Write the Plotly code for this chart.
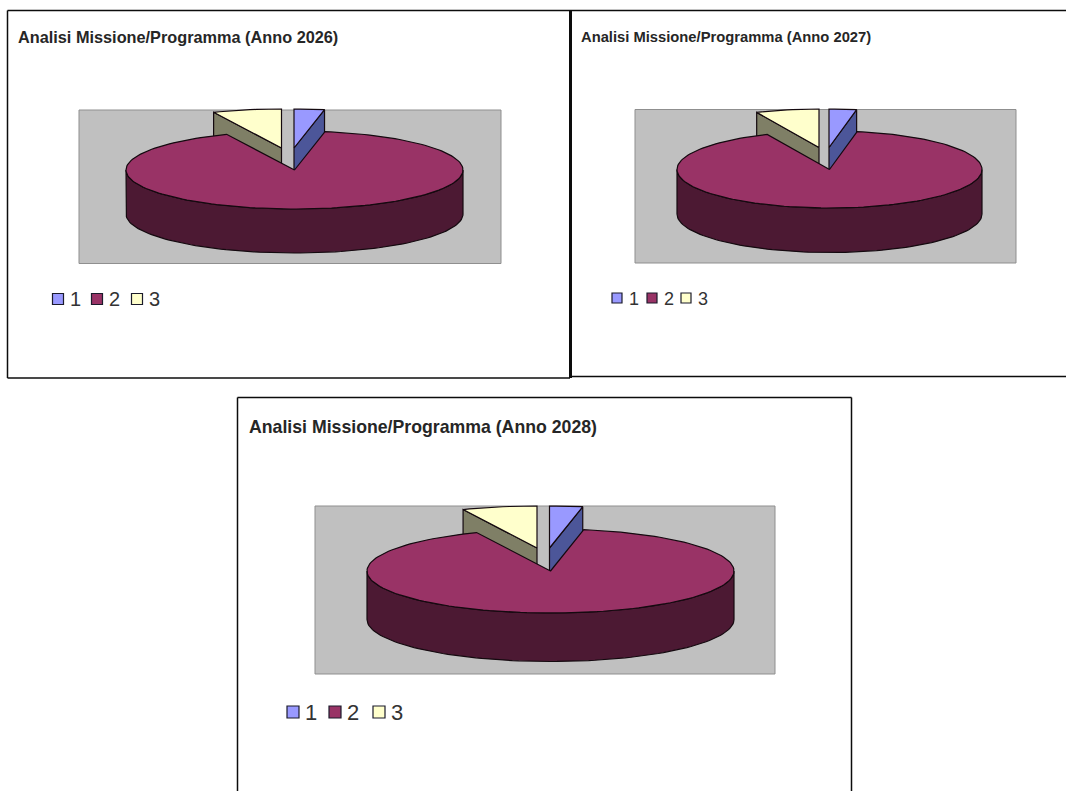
import math
import plotly.graph_objects as go

# ---- data ----
categories = ["1", "2", "3"]
values_2026 = [2.9, 90.5, 6.6]
values_2027 = [2.9, 90.4, 6.7]
values_2028 = [2.9, 90.5, 6.6]
titles = ["Analisi Missione/Programma (Anno 2026)",
          "Analisi Missione/Programma (Anno 2027)",
          "Analisi Missione/Programma (Anno 2028)"]

# ---- styles ----
TOP_COLORS = ["#9999FF", "#993366", "#FFFFCC"]
SIDE_COLORS = ["#4C5699", "#4C1933", "#7F7F66"]
EDGE = "#14090f"
FONT = "Liberation Sans"

panels = [
    dict(values=values_2026, title=titles[0], title_xy=(16, 37), title_size=16.3,
         plot=(79, 110, 501, 263.5), cx=294.5, cy=170, a=168.5, b=39, depth=44,
         explode=[(-0.5, -22), (0, 0), (-13, -22)],
         legend_x=[58, 97, 137], legend_y=299, legend_font=20, swatch=11),
    dict(values=values_2027, title=titles[1], title_xy=(579, 37), title_size=14.75,
         plot=(635, 109.5, 1016, 263), cx=829.5, cy=169.5, a=152.5, b=38.5, depth=44.5,
         explode=[(-0.5, -22), (0, 0), (-10.5, -22)],
         legend_x=[617, 652, 686], legend_y=298, legend_font=18, swatch=10),
    dict(values=values_2028, title=titles[2], title_xy=(247, 427), title_size=17.7,
         plot=(315, 506, 775, 674), cx=550.5, cy=571, a=183.5, b=42, depth=48.5,
         explode=[(-1, -23), (0, 0), (-13.5, -23)],
         legend_x=[293, 335, 379], legend_y=712, legend_font=22, swatch=12),
]


def pt(p, ang, dx=0.0, dy=0.0):
    """Point on the pie rim; ang in degrees clockwise from 12 o'clock."""
    r = math.radians(ang)
    return (p["cx"] + dx + p["a"] * math.sin(r), p["cy"] + dy - p["b"] * math.cos(r))


def arc(p, a0, a1, dx=0.0, dy=0.0):
    n = max(2, int(abs(a1 - a0) / 2))
    return [pt(p, a0 + (a1 - a0) * i / n, dx, dy) for i in range(n + 1)]


def poly(points, fill, name):
    xs = [q[0] for q in points] + [points[0][0]]
    ys = [q[1] for q in points] + [points[0][1]]
    return go.Scatter(x=xs, y=ys, mode="lines", fill="toself", fillcolor=fill, name=name,
                      line=dict(color=EDGE, width=1.2), showlegend=False, hoverinfo="skip")


fig = go.Figure()
shapes = []
annotations = []

for p in panels:
    x0, y0, x1, y1 = p["plot"]
    shapes.append(dict(type="rect", x0=x0, y0=y0, x1=x1, y1=y1, layer="below",
                       fillcolor="#C0C0C0", line=dict(color="#8f8f8f", width=1)))
    total = sum(p["values"])
    angles = [0.0]
    for v in p["values"]:
        angles.append(angles[-1] + 360.0 * v / total)

    # side faces of the two pulled-out slices
    for i, a in ((0, angles[1]), (2, angles[2])):
        dx, dy = p["explode"][i]
        apex = (p["cx"] + dx, p["cy"] + dy)
        rim = pt(p, a, dx, dy)
        fig.add_trace(poly([apex, rim, (rim[0], rim[1] + p["depth"]), (apex[0], apex[1] + p["depth"])],
                           SIDE_COLORS[i], categories[i]))
    # top faces of the two pulled-out slices
    for i in (0, 2):
        dx, dy = p["explode"][i]
        fig.add_trace(poly([(p["cx"] + dx, p["cy"] + dy)] + arc(p, angles[i], angles[i + 1], dx, dy),
                           TOP_COLORS[i], categories[i]))
    # main slice: rim wall then top face
    front = arc(p, 90, 270)
    wall = front + [(x, y + p["depth"]) for x, y in reversed(front)]
    fig.add_trace(poly(wall, SIDE_COLORS[1], categories[1]))
    fig.add_trace(poly([(p["cx"], p["cy"])] + arc(p, angles[1], angles[2]), TOP_COLORS[1], categories[1]))

    # legend
    for i, c in enumerate(categories):
        fig.add_trace(go.Scatter(
            x=[p["legend_x"][i]], y=[p["legend_y"]], mode="markers", name=c,
            showlegend=False, hoverinfo="skip",
            marker=dict(symbol="square", size=p["swatch"], color=TOP_COLORS[i],
                        line=dict(color="#1b1b2b", width=1.2))))
        fig.add_trace(go.Scatter(
            x=[p["legend_x"][i] + 12], y=[p["legend_y"] + 2], mode="text", text=[c],
            textposition="middle right", name=c, showlegend=False, hoverinfo="skip",
            textfont=dict(family=FONT, size=p["legend_font"], color="#333333")))

    annotations.append(dict(x=p["title_xy"][0], y=p["title_xy"][1], text="<b>" + p["title"] + "</b>",
                            showarrow=False, xanchor="left", yanchor="middle", xref="x", yref="y",
                            font=dict(family=FONT, size=p["title_size"], color="#262626")))

FRAME = "#0c0c0c"
frame_lines = [
    (7.5, 10.5, 7.5, 378, 1.5), (7.5, 10.5, 1066, 10.5, 1.5), (7.5, 378, 570, 378, 1.5),
    (570.5, 10.5, 570.5, 378, 3), (570, 376.5, 1066, 376.5, 1.5),
    (237.5, 397.5, 237.5, 791, 1.5), (237.5, 397.5, 851.5, 397.5, 1.5), (851.5, 397.5, 851.5, 791, 1.5),
]
for xa, ya, xb, yb, w in frame_lines:
    shapes.append(dict(type="line", x0=xa, y0=ya, x1=xb, y1=yb, layer="below",
                       line=dict(color=FRAME, width=w)))

fig.update_layout(
    width=1066, height=791, margin=dict(l=0, r=0, t=0, b=0),
    paper_bgcolor="white", plot_bgcolor="white", showlegend=False,
    xaxis=dict(range=[0, 1066], visible=False, fixedrange=True),
    yaxis=dict(range=[791, 0], visible=False, fixedrange=True),
    shapes=shapes, annotations=annotations,
)

fig.write_html("out.html", config={"displayModeBar": False},
               post_script="document.body.style.margin='0';document.body.style.overflow='hidden';")
